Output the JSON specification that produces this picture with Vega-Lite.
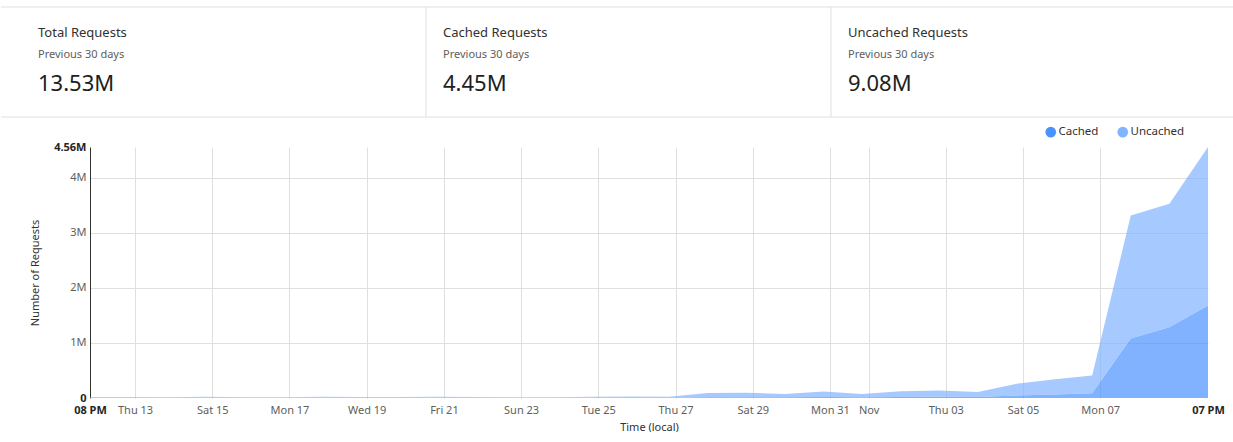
{
  "$schema": "https://vega.github.io/schema/vega-lite/v6.json",
  "background": "white",
  "padding": {"left": 0, "top": 6, "right": 0, "bottom": 0},
  "columns": 1,
  "spacing": 8,
  "bounds": "full",
  "resolve": {"scale": {"color": "independent"}, "legend": {"color": "independent"}},
  "config": {
    "font": "Noto Sans",
    "view": {"stroke": null}
  },
  "concat": [
    {
      "width": 1144,
      "height": 110,
      "data": {"values": [
        {"card": "Total Requests", "period": "Previous 30 days", "total": "13.53M"},
        {"card": "Cached Requests", "period": "Previous 30 days", "total": "4.45M"},
        {"card": "Uncached Requests", "period": "Previous 30 days", "total": "9.08M"}
      ]},
      "resolve": {"scale": {"x": "independent"}},
      "layer": [
        {
          "transform": [{"filter": "datum.card == 'Total Requests'"}],
          "mark": {"type": "rule", "color": "#e1dfdd", "strokeWidth": 1},
          "encoding": {
            "x": {"datum": 0, "type": "quantitative", "scale": {"domain": [0, 1], "rangeMin": -89, "nice": false, "zero": false}, "axis": null},
            "x2": {"datum": 1},
            "y": {"datum": "top", "type": "ordinal", "scale": {"type": "point", "domain": ["top", "title", "sub", "value", "bottom"], "padding": 0}, "axis": null}
          }
        },
        {
          "transform": [{"filter": "datum.card == 'Total Requests'"}],
          "mark": {"type": "rule", "color": "#e1dfdd", "strokeWidth": 1},
          "encoding": {
            "x": {"datum": 0, "type": "quantitative", "scale": {"domain": [0, 1], "rangeMin": -89, "nice": false, "zero": false}, "axis": null},
            "x2": {"datum": 1},
            "y": {"datum": "bottom", "type": "ordinal"}
          }
        },
        {
          "transform": [{"filter": "datum.card != 'Total Requests'"}],
          "mark": {"type": "rule", "color": "#e1dfdd", "strokeWidth": 1},
          "encoding": {
            "x": {"field": "card", "type": "nominal", "sort": null, "bandPosition": 0, "scale": {"type": "band", "paddingInner": 0, "paddingOuter": 0, "domain": ["Total Requests", "Cached Requests", "Uncached Requests"], "rangeMin": -69, "rangeMax": 1146}, "axis": null},
            "y": {"datum": "top", "type": "ordinal"},
            "y2": {"datum": "bottom"}
          }
        },
        {
          "mark": {"type": "text", "align": "left", "baseline": "middle", "dx": 17, "dy": -2, "fontSize": 13, "color": "#323130"},
          "encoding": {
            "x": {"field": "card", "type": "nominal", "sort": null, "bandPosition": 0, "scale": {"type": "band", "paddingInner": 0, "paddingOuter": 0, "domain": ["Total Requests", "Cached Requests", "Uncached Requests"], "rangeMin": -69, "rangeMax": 1146}, "axis": null},
            "y": {"datum": "title", "type": "ordinal"},
            "text": {"field": "card"}
          }
        },
        {
          "mark": {"type": "text", "align": "left", "baseline": "middle", "dx": 17, "dy": -7.5, "fontSize": 11, "color": "#605e5c"},
          "encoding": {
            "x": {"field": "card", "type": "nominal", "sort": null, "bandPosition": 0, "scale": {"type": "band", "paddingInner": 0, "paddingOuter": 0, "domain": ["Total Requests", "Cached Requests", "Uncached Requests"], "rangeMin": -69, "rangeMax": 1146}, "axis": null},
            "y": {"datum": "sub", "type": "ordinal"},
            "text": {"field": "period"}
          }
        },
        {
          "mark": {"type": "text", "align": "left", "baseline": "middle", "dx": 17, "dy": -6, "fontSize": 22, "color": "#201f1e"},
          "encoding": {
            "x": {"field": "card", "type": "nominal", "sort": null, "bandPosition": 0, "scale": {"type": "band", "paddingInner": 0, "paddingOuter": 0, "domain": ["Total Requests", "Cached Requests", "Uncached Requests"], "rangeMin": -69, "rangeMax": 1146}, "axis": null},
            "y": {"datum": "value", "type": "ordinal"},
            "text": {"field": "total"}
          }
        }
      ]
    },
    {
      "width": 1118,
      "height": 251,
      "data": {"values": [
        {"time": "2022-10-11T20:00:00Z", "kind": "Cached", "requests": 4000},
        {"time": "2022-10-11T20:00:00Z", "kind": "Uncached", "requests": 12000},
        {"time": "2022-10-12T20:00:00Z", "kind": "Cached", "requests": 5000},
        {"time": "2022-10-12T20:00:00Z", "kind": "Uncached", "requests": 14000},
        {"time": "2022-10-13T20:00:00Z", "kind": "Cached", "requests": 4000},
        {"time": "2022-10-13T20:00:00Z", "kind": "Uncached", "requests": 11000},
        {"time": "2022-10-14T20:00:00Z", "kind": "Cached", "requests": 6000},
        {"time": "2022-10-14T20:00:00Z", "kind": "Uncached", "requests": 15000},
        {"time": "2022-10-15T20:00:00Z", "kind": "Cached", "requests": 3000},
        {"time": "2022-10-15T20:00:00Z", "kind": "Uncached", "requests": 9000},
        {"time": "2022-10-16T20:00:00Z", "kind": "Cached", "requests": 4000},
        {"time": "2022-10-16T20:00:00Z", "kind": "Uncached", "requests": 10000},
        {"time": "2022-10-17T20:00:00Z", "kind": "Cached", "requests": 6000},
        {"time": "2022-10-17T20:00:00Z", "kind": "Uncached", "requests": 16000},
        {"time": "2022-10-18T20:00:00Z", "kind": "Cached", "requests": 5000},
        {"time": "2022-10-18T20:00:00Z", "kind": "Uncached", "requests": 14000},
        {"time": "2022-10-19T20:00:00Z", "kind": "Cached", "requests": 5000},
        {"time": "2022-10-19T20:00:00Z", "kind": "Uncached", "requests": 13000},
        {"time": "2022-10-20T20:00:00Z", "kind": "Cached", "requests": 6000},
        {"time": "2022-10-20T20:00:00Z", "kind": "Uncached", "requests": 17000},
        {"time": "2022-10-21T20:00:00Z", "kind": "Cached", "requests": 5000},
        {"time": "2022-10-21T20:00:00Z", "kind": "Uncached", "requests": 15000},
        {"time": "2022-10-22T20:00:00Z", "kind": "Cached", "requests": 3000},
        {"time": "2022-10-22T20:00:00Z", "kind": "Uncached", "requests": 10000},
        {"time": "2022-10-23T20:00:00Z", "kind": "Cached", "requests": 4000},
        {"time": "2022-10-23T20:00:00Z", "kind": "Uncached", "requests": 11000},
        {"time": "2022-10-24T20:00:00Z", "kind": "Cached", "requests": 6000},
        {"time": "2022-10-24T20:00:00Z", "kind": "Uncached", "requests": 16000},
        {"time": "2022-10-25T20:00:00Z", "kind": "Cached", "requests": 7000},
        {"time": "2022-10-25T20:00:00Z", "kind": "Uncached", "requests": 18000},
        {"time": "2022-10-26T20:00:00Z", "kind": "Cached", "requests": 8000},
        {"time": "2022-10-26T20:00:00Z", "kind": "Uncached", "requests": 16000},
        {"time": "2022-10-27T20:00:00Z", "kind": "Cached", "requests": 15000},
        {"time": "2022-10-27T20:00:00Z", "kind": "Uncached", "requests": 75000},
        {"time": "2022-10-28T20:00:00Z", "kind": "Cached", "requests": 15000},
        {"time": "2022-10-28T20:00:00Z", "kind": "Uncached", "requests": 80000},
        {"time": "2022-10-29T20:00:00Z", "kind": "Cached", "requests": 13000},
        {"time": "2022-10-29T20:00:00Z", "kind": "Uncached", "requests": 60000},
        {"time": "2022-10-30T20:00:00Z", "kind": "Cached", "requests": 16000},
        {"time": "2022-10-30T20:00:00Z", "kind": "Uncached", "requests": 100000},
        {"time": "2022-10-31T20:00:00Z", "kind": "Cached", "requests": 14000},
        {"time": "2022-10-31T20:00:00Z", "kind": "Uncached", "requests": 59000},
        {"time": "2022-11-01T20:00:00Z", "kind": "Cached", "requests": 18000},
        {"time": "2022-11-01T20:00:00Z", "kind": "Uncached", "requests": 104000},
        {"time": "2022-11-02T20:00:00Z", "kind": "Cached", "requests": 22000},
        {"time": "2022-11-02T20:00:00Z", "kind": "Uncached", "requests": 113000},
        {"time": "2022-11-03T20:00:00Z", "kind": "Cached", "requests": 20000},
        {"time": "2022-11-03T20:00:00Z", "kind": "Uncached", "requests": 89000},
        {"time": "2022-11-04T20:00:00Z", "kind": "Cached", "requests": 45000},
        {"time": "2022-11-04T20:00:00Z", "kind": "Uncached", "requests": 215000},
        {"time": "2022-11-05T20:00:00Z", "kind": "Cached", "requests": 62000},
        {"time": "2022-11-05T20:00:00Z", "kind": "Uncached", "requests": 278000},
        {"time": "2022-11-06T19:00:00Z", "kind": "Cached", "requests": 88000},
        {"time": "2022-11-06T19:00:00Z", "kind": "Uncached", "requests": 322000},
        {"time": "2022-11-07T19:00:00Z", "kind": "Cached", "requests": 1080000},
        {"time": "2022-11-07T19:00:00Z", "kind": "Uncached", "requests": 2236000},
        {"time": "2022-11-08T19:00:00Z", "kind": "Cached", "requests": 1285000},
        {"time": "2022-11-08T19:00:00Z", "kind": "Uncached", "requests": 2245000},
        {"time": "2022-11-09T19:00:00Z", "kind": "Cached", "requests": 1680000},
        {"time": "2022-11-09T19:00:00Z", "kind": "Uncached", "requests": 2880000}
      ]},
      "mark": {"type": "area", "opacity": 0.7, "interpolate": "linear"},
      "encoding": {
        "x": {
          "field": "time",
          "type": "temporal",
          "scale": {"type": "utc", "nice": false},
          "axis": {
            "values": [
              {"year": 2022, "month": 10, "date": 11, "hours": 20, "utc": true},
              {"year": 2022, "month": 10, "date": 13, "utc": true},
              {"year": 2022, "month": 10, "date": 15, "utc": true},
              {"year": 2022, "month": 10, "date": 17, "utc": true},
              {"year": 2022, "month": 10, "date": 19, "utc": true},
              {"year": 2022, "month": 10, "date": 21, "utc": true},
              {"year": 2022, "month": 10, "date": 23, "utc": true},
              {"year": 2022, "month": 10, "date": 25, "utc": true},
              {"year": 2022, "month": 10, "date": 27, "utc": true},
              {"year": 2022, "month": 10, "date": 29, "utc": true},
              {"year": 2022, "month": 10, "date": 31, "utc": true},
              {"year": 2022, "month": 11, "date": 1, "utc": true},
              {"year": 2022, "month": 11, "date": 3, "utc": true},
              {"year": 2022, "month": 11, "date": 5, "utc": true},
              {"year": 2022, "month": 11, "date": 7, "utc": true},
              {"year": 2022, "month": 11, "date": 9, "hours": 19, "utc": true}
            ],
            "labelExpr": "utchours(datum.value) > 0 ? utcFormat(datum.value, '%I %p') : (utcdate(datum.value) == 1 ? utcFormat(datum.value, '%b') : utcFormat(datum.value, '%a %d'))",
            "labelFontWeight": {"condition": {"test": "utchours(datum.value) > 0", "value": "bold"}, "value": "normal"},
            "labelColor": {"condition": {"test": "utchours(datum.value) > 0", "value": "#252423"}, "value": "#605e5c"},
            "gridOpacity": {"condition": {"test": "utchours(datum.value) > 0", "value": 0}, "value": 1},
            "grid": true,
            "gridColor": "#e1dfdd",
            "domain": false,
            "ticks": false,
            "labelPadding": 6,
            "labelFontSize": 11,
            "labelOverlap": false,
            "labelFlush": false,
            "title": "Time (local)",
            "titleFontSize": 11,
            "titleFontWeight": "normal",
            "titleColor": "#323130",
            "titlePadding": 6
          }
        },
        "y": {
          "field": "requests",
          "type": "quantitative",
          "stack": "zero",
          "scale": {"domain": [0, 4560000], "nice": false},
          "axis": {
            "values": [0, 1000000, 2000000, 3000000, 4000000, 4560000],
            "labelExpr": "datum.value == 0 ? '0' : format(datum.value / 1000000, '.3~g') + 'M'",
            "labelFontWeight": {"condition": {"test": "datum.value == 0 || datum.value > 4500000", "value": "bold"}, "value": "normal"},
            "labelColor": {"condition": {"test": "datum.value == 0 || datum.value > 4500000", "value": "#252423"}, "value": "#605e5c"},
            "gridOpacity": {"condition": {"test": "datum.value == 0 || datum.value > 4500000", "value": 0}, "value": 1},
            "grid": true,
            "gridColor": "#e1dfdd",
            "domain": true,
            "domainColor": "#323130",
            "ticks": false,
            "labelPadding": 4,
            "labelFontSize": 11,
            "labelOverlap": false,
            "labelFlush": false,
            "title": "Number of Requests",
            "titleFontSize": 11,
            "titleFontWeight": "normal",
            "titleColor": "#323130",
            "titlePadding": 13
          }
        },
        "order": {"field": "kind", "type": "nominal", "sort": "ascending"},
        "color": {
          "field": "kind",
          "type": "nominal",
          "scale": {"domain": ["Cached", "Uncached"], "range": ["#4a92ff", "#80b4ff"]},
          "legend": {
            "title": null,
            "orient": "none",
            "legendX": 955,
            "legendY": -21,
            "direction": "horizontal",
            "symbolType": "circle",
            "symbolSize": 113,
            "symbolOpacity": 1,
            "symbolStrokeWidth": 0,
            "labelFontSize": 11.5,
            "labelColor": "#323130",
            "labelOffset": 2,
            "columnPadding": 18,
            "padding": 0
          }
        }
      }
    }
  ]
}
